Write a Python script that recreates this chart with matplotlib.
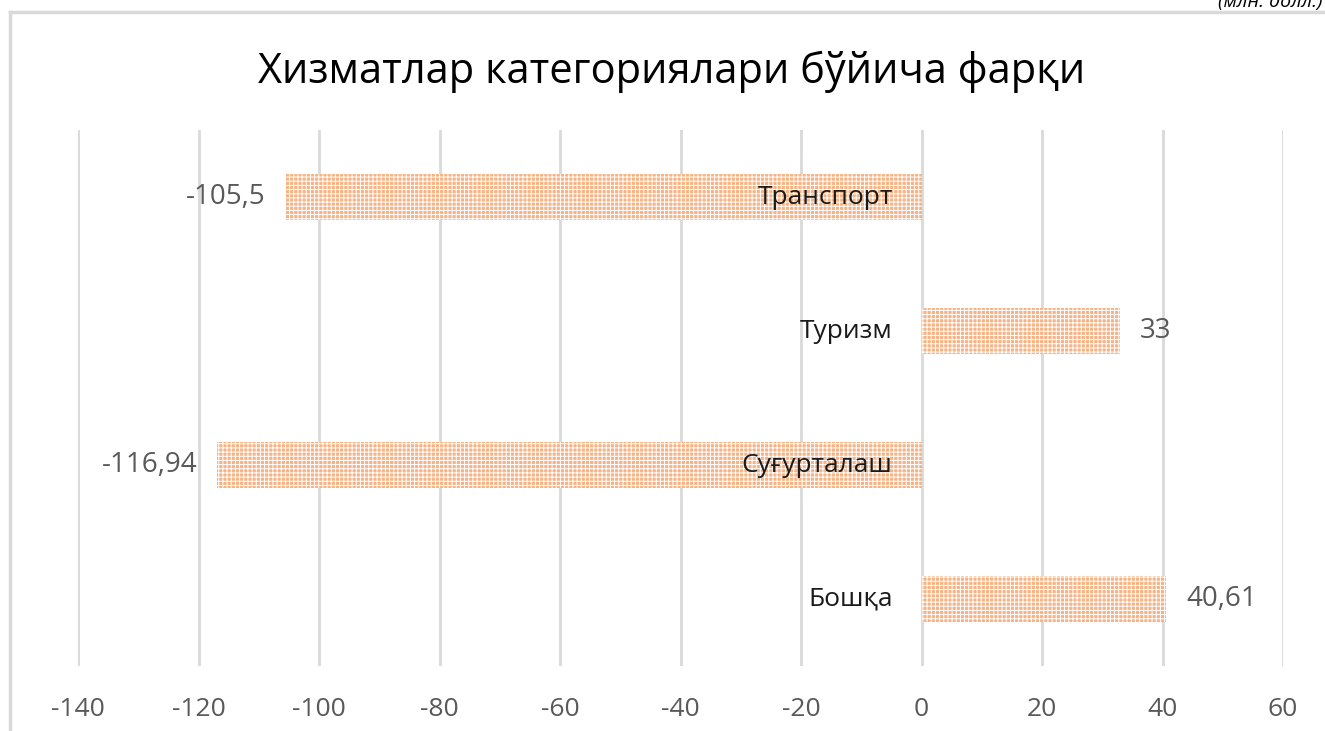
import matplotlib
matplotlib.use("Agg")
import matplotlib.pyplot as plt
from matplotlib.lines import Line2D

plt.rcParams['font.family'] = ['Open Sans', 'DejaVu Sans']
plt.rcParams['hatch.color'] = 'white'
plt.rcParams['hatch.linewidth'] = 0.7

# data (top to bottom)
categories = ['Транспорт', 'Туризм', 'Суғурталаш', 'Бошқа']
values = [-105.5, 33, -116.94, 40.61]
value_labels = ['-105,5', '33', '-116,94', '40,61']
xticks = [-140, -120, -100, -80, -60, -40, -20, 0, 20, 40, 60]

title = 'Хизматлар категориялари бўйича фарқи'
unit_note = '(млн. долл.)'

gray = '#595959'
grid_gray = '#d9d9d9'

fig = plt.figure(figsize=(13.25, 7.31), dpi=100)
ax = fig.add_axes([78 / 1325, 65 / 731, 1205 / 1325, 536 / 731])

ypos = list(range(len(categories)))
ax.barh(ypos, values, height=0.35, color='#f6b385', hatch='++++',
        linewidth=0, zorder=2)

ax.set_xlim(-140, 60)
ax.set_ylim(len(categories) - 0.5, -0.5)
ax.set_xticks(xticks)
ax.set_xticklabels([str(t) for t in xticks], color=gray, fontsize=19)
ax.tick_params(axis='x', length=0, pad=22)
ax.set_yticks([])
ax.grid(axis='x', color=grid_gray, linewidth=2, zorder=0)
for s in ax.spines.values():
    s.set_visible(False)

for y, v, lab, name in zip(ypos, values, value_labels, categories):
    # category name sits just left of the zero line
    ax.text(-4.8, y, name, ha='right', va='center', fontsize=19,
            color='#1a1a1a', zorder=3)
    if v < 0:
        ax.text(v - 3.3, y, lab, ha='right', va='center', fontsize=20,
                color=gray, zorder=3)
    else:
        ax.text(v + 3.3, y, lab, ha='left', va='center', fontsize=20,
                color=gray, zorder=3)

fig.text(672 / 1325, 1 - 72 / 731, title, ha='center', va='center',
         fontsize=30, color='black')
fig.text(1322 / 1325, 1 - 2 / 731, unit_note, ha='right', va='center',
         fontsize=14, style='italic', color='black')

# chart frame (cropped screenshot look)
fig.add_artist(Line2D([10 / 1325, 1], [1 - 12 / 731, 1 - 12 / 731],
                      transform=fig.transFigure, color=grid_gray, linewidth=2.5))
fig.add_artist(Line2D([10 / 1325, 10 / 1325], [0, 1 - 12 / 731],
                      transform=fig.transFigure, color=grid_gray, linewidth=2.5))

fig.savefig('out.png', dpi=100)
